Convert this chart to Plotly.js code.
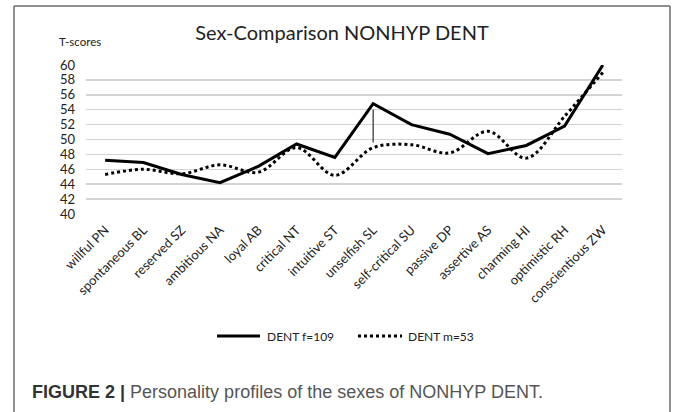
<!DOCTYPE html>
<html>
<head>
<meta charset="utf-8">
<script src="https://cdn.plot.ly/plotly-3.0.1.min.js"></script>
<style>
html,body{margin:0;padding:0;background:#fff;}
#chart{width:675px;height:412px;}
</style>
</head>
<body>
<div id="chart"></div>
<script>
// ---- data ----
var traits = ["willful PN","spontaneous BL","reserved SZ","ambitious NA","loyal AB","critical NT","intuitive ST","unselfish SL","self-critical SU","passive DP","assertive AS","charming HI","optimistic RH","conscientious ZW"];
var femaleScores = [47.2, 46.9, 45.3, 44.2, 46.4, 49.4, 47.6, 54.8, 52.0, 50.7, 48.1, 49.2, 51.8, 60.0];
var maleScores   = [45.3, 46.0, 45.4, 46.6, 45.6, 48.9, 45.2, 48.9, 49.3, 48.2, 51.1, 47.5, 53.1, 59.0];
var femaleName = "DENT f=109";
var maleName = "DENT m=53";
var linkCategory = ["unselfish SL", "unselfish SL"];
var linkValues = [54.0, 49.6];
var yTicks = [40,42,44,46,48,50,52,54,56,58,60];

// ---- layout helpers (pixel -> paper) ----
var W = 675, H = 412, L = 86, R = 53, T = 65, B = 198;
var pw = W - L - R, ph = H - T - B;
function px(x){ return (x - L) / pw; }
function py(y){ return (H - B - y) / ph; }

var font = "Lato, 'Open Sans', sans-serif";

var traces = [
  {
    x: traits, y: femaleScores, name: femaleName, type: "scatter", mode: "lines",
    line: {color: "#000", width: 3}, showlegend: false
  },
  {
    x: traits, y: maleScores, name: maleName, type: "scatter", mode: "lines",
    line: {color: "#000", width: 3, dash: "dot", shape: "spline", smoothing: 1}, showlegend: false
  },
  {
    x: linkCategory, y: linkValues, type: "scatter", mode: "lines", showlegend: false,
    line: {color: "#000", width: 1}, hoverinfo: "skip"
  }
];

var borderColor = "#6b6b6b";
var legendY = 336;
var layout = {
  width: W, height: H,
  margin: {l: L, r: R, t: T, b: B, pad: 0},
  paper_bgcolor: "#fff", plot_bgcolor: "#fff",
  font: {family: font, color: "#222"},
  title: {
    text: "Sex-Comparison NONHYP DENT",
    font: {family: font, size: 20, color: "#222"},
    xref: "container", x: 342 / W, xanchor: "center",
    yref: "container", y: 1 - 33 / H, yanchor: "middle"
  },
  xaxis: {
    type: "category",
    tickangle: -45,
    tickfont: {family: font, size: 13, color: "#222"},
    showgrid: false, zeroline: false, showline: false, ticks: "",
    ticklabelstandoff: 5,
    range: [-0.5, traits.length - 0.5]
  },
  yaxis: {
    range: [40, 60],
    tickvals: yTicks,
    tickfont: {family: font, size: 13, color: "#222"},
    showgrid: true, gridcolor: "#d4d4d4", gridwidth: 1.5,
    zeroline: false, showline: false, ticks: "",
    ticklabelstandoff: 10
  },
  showlegend: false,
  annotations: [
    {
      text: "T-scores", xref: "paper", yref: "paper",
      x: px(80), y: py(42), xanchor: "center", yanchor: "middle",
      showarrow: false, font: {family: font, size: 11.5, color: "#222"}
    },
    {
      text: femaleName, xref: "paper", yref: "paper",
      x: px(265), y: py(legendY), xanchor: "left", yanchor: "middle",
      showarrow: false, font: {family: font, size: 12, color: "#222"}
    },
    {
      text: maleName, xref: "paper", yref: "paper",
      x: px(406), y: py(legendY), xanchor: "left", yanchor: "middle",
      showarrow: false, font: {family: font, size: 12, color: "#222"}
    },
    {
      text: "<b>FIGURE 2 |</b> <span style='color:#555'>Personality profiles of the sexes of NONHYP DENT.</span>",
      xref: "paper", yref: "paper",
      x: px(30), y: py(392), xanchor: "left", yanchor: "middle",
      showarrow: false, font: {family: "'Liberation Sans', Arial, sans-serif", size: 18, color: "#333"}
    }
  ],
  shapes: [
    {type: "line", xref: "paper", yref: "paper", x0: px(217), x1: px(260), y0: py(legendY), y1: py(legendY), line: {color: "#000", width: 3}},
    {type: "line", xref: "paper", yref: "paper", x0: px(358), x1: px(402), y0: py(legendY), y1: py(legendY), line: {color: "#000", width: 3, dash: "dot"}},
    {type: "line", xref: "paper", yref: "paper", x0: px(14), x1: px(14), y0: py(6), y1: py(412), line: {color: borderColor, width: 1.5}},
    {type: "line", xref: "paper", yref: "paper", x0: px(14), x1: px(670), y0: py(6), y1: py(6), line: {color: borderColor, width: 1.5}},
    {type: "line", xref: "paper", yref: "paper", x0: px(670), x1: px(670), y0: py(6), y1: py(412), line: {color: borderColor, width: 1.5}}
  ]
};

Plotly.newPlot("chart", traces, layout, {displayModeBar: false, staticPlot: true});
</script>
</body>
</html>
